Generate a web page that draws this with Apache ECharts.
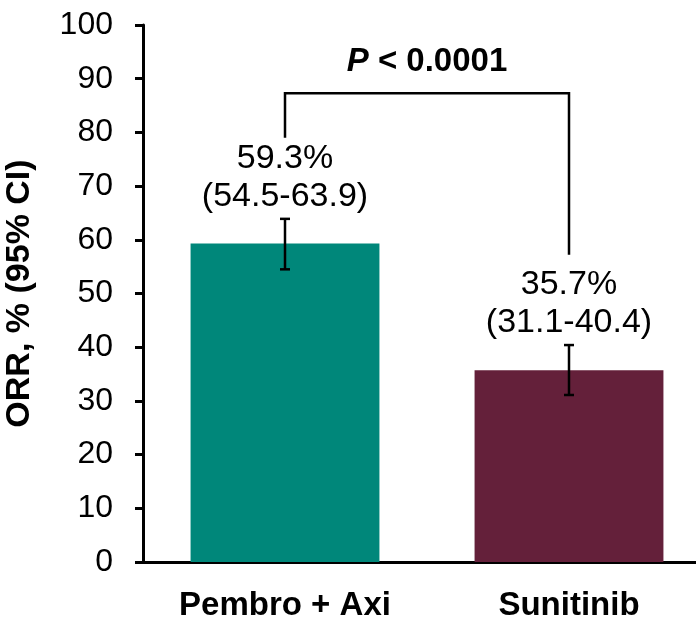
<!DOCTYPE html>
<html>
<head>
<meta charset="utf-8">
<script src="https://cdn.jsdelivr.net/npm/echarts@6/dist/echarts.min.js"></script>
<style>
  html, body { margin: 0; padding: 0; background: #fff; }
  #chart { width: 696px; height: 618px; }
</style>
</head>
<body>
<div id="chart"></div>
<script>
const categories = ["Pembro + Axi", "Sunitinib"];
const orr = [59.3, 35.7];
const ciLow = [54.5, 31.1];
const ciHigh = [63.9, 40.4];
const barColors = ["#00877a", "#64203a"];
const yTicks = [0, 10, 20, 30, 40, 50, 60, 70, 80, 90, 100];
// comparison bracket: top level, then the lower end on each side
const bracketTop = 87.3;
const bracketEnds = [79, 57.2];
const pText = "< 0.0001";

const FONT = "Liberation Sans, Arial, sans-serif";

const chart = echarts.init(document.getElementById("chart"));

const option = {
  animation: false,
  grid: {
    left: 143,
    right: -15,
    top: 25,
    bottom: 56,
    containLabel: false,
    outerBoundsMode: "none",
  },
  xAxis: {
    type: "category",
    data: categories,
    axisLine: { lineStyle: { color: "#000", width: 3 } },
    axisTick: { show: false },
    axisLabel: {
      margin: 27,
      color: "#000",
      fontFamily: FONT,
      fontWeight: "bold",
      fontSize: 33,
    },
  },
  yAxis: {
    type: "value",
    min: yTicks[0],
    max: yTicks[yTicks.length - 1],
    interval: 10,
    name: "ORR, % (95% CI)",
    nameLocation: "middle",
    nameGap: 106,
    nameTextStyle: {
      color: "#000",
      fontFamily: FONT,
      fontWeight: "bold",
      fontSize: 34,
    },
    axisLine: { show: true, lineStyle: { color: "#000", width: 3 } },
    axisTick: { show: true, length: 8, lineStyle: { color: "#000", width: 3 } },
    splitLine: { show: false },
    axisLabel: {
      margin: 30,
      color: "#000",
      fontFamily: FONT,
      fontSize: 32,
    },
  },
  series: [
    {
      type: "bar",
      barWidth: "66.5%",
      data: orr.map((v, i) => ({ value: v, itemStyle: { color: barColors[i] } })),
    },
    {
      // error bars + value labels
      type: "custom",
      z: 5,
      data: orr.map((v, i) => [i, ciLow[i], ciHigh[i], v]),
      renderItem: function (params, api) {
        const lo = api.coord([api.value(0), api.value(1)]);
        const hi = api.coord([api.value(0), api.value(2)]);
        const cap = 5;
        const st = { stroke: "#000", lineWidth: 2.5 };
        return {
          type: "group",
          children: [
            { type: "line", shape: { x1: lo[0], y1: lo[1], x2: hi[0], y2: hi[1] }, style: st },
            { type: "line", shape: { x1: lo[0] - cap, y1: lo[1], x2: lo[0] + cap, y2: lo[1] }, style: st },
            { type: "line", shape: { x1: hi[0] - cap, y1: hi[1], x2: hi[0] + cap, y2: hi[1] }, style: st },
            {
              type: "text",
              x: hi[0],
              y: hi[1] - 3,
              style: {
                text: api.value(3).toFixed(1) + "%\n(" + api.value(1).toFixed(1) + "-" + api.value(2).toFixed(1) + ")",
                fill: "#000",
                font: "34px " + FONT,
                lineHeight: 38,
                align: "center",
                verticalAlign: "bottom",
              },
            },
          ],
        };
      },
    },
    {
      // significance bracket
      type: "custom",
      z: 5,
      data: [[0, 1, bracketTop, bracketEnds[0], bracketEnds[1]]],
      renderItem: function (params, api) {
        const tl = api.coord([api.value(0), api.value(2)]);
        const tr = api.coord([api.value(1), api.value(2)]);
        const bl = api.coord([api.value(0), api.value(3)]);
        const br = api.coord([api.value(1), api.value(4)]);
        return {
          type: "group",
          children: [
            {
              type: "polyline",
              shape: { points: [[bl[0], bl[1]], tl, tr, [br[0], br[1]]] },
              style: { stroke: "#000", lineWidth: 2.5, fill: null },
            },
            {
              type: "text",
              x: (tl[0] + tr[0]) / 2,
              y: tl[1] - 31,
              style: {
                text: "{p|P }{b|" + pText + "}",
                align: "center",
                verticalAlign: "middle",
                rich: {
                  p: { fontFamily: FONT, fontWeight: "bold", fontStyle: "italic", fontSize: 33, fill: "#000" },
                  b: { fontFamily: FONT, fontWeight: "bold", fontSize: 33, fill: "#000" },
                },
              },
            },
          ],
        };
      },
    },
  ],
};

chart.setOption(option);
</script>
</body>
</html>
